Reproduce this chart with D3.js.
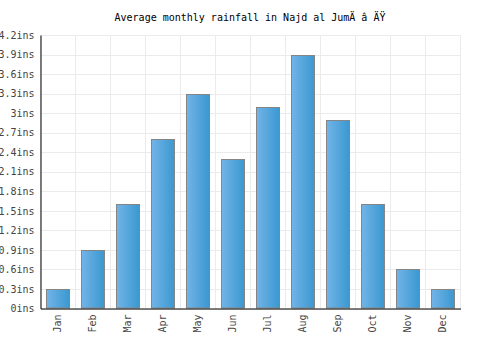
<!DOCTYPE html>
<html><head><meta charset="utf-8">
<script src="https://cdn.jsdelivr.net/npm/d3@7"></script>
<style>
html,body{margin:0;padding:0;background:#fff;}
text{font-family:"DejaVu Sans Mono",monospace;}
</style></head>
<body><svg id="c" width="500" height="350"></svg>
<script>
const title = "Average monthly rainfall in Najd al JumÄ â  ÄŸ";
const months = ["Jan","Feb","Mar","Apr","May","Jun","Jul","Aug","Sep","Oct","Nov","Dec"];
const rainfall = [0.3,0.9,1.6,2.6,3.3,2.3,3.1,3.9,2.9,1.6,0.6,0.3];
const yTicks = [0,0.3,0.6,0.9,1.2,1.5,1.8,2.1,2.4,2.7,3,3.3,3.6,3.9,4.2];

const svg = d3.select("#c");
const m = {l:40.5, r:460.5, t:35, b:308.5};
const x = d3.scaleBand().domain(months).range([m.l, m.r]).paddingInner(0.33).paddingOuter(0.165);
const y = d3.scaleLinear().domain([0,4.2]).range([m.b, m.t]);

const defs = svg.append("defs");
const g = defs.append("linearGradient").attr("id","bg").attr("x1","0").attr("x2","1").attr("y1","0").attr("y2","0");
g.append("stop").attr("offset","0").attr("stop-color","#72b4e8");
g.append("stop").attr("offset","1").attr("stop-color","#3a98d0");

// grid
const grid = svg.append("g");
grid.selectAll("line.h").data(yTicks).join("line")
  .attr("x1", m.l).attr("x2", m.r)
  .attr("y1", d => Math.round(y(d))+0.5).attr("y2", d => Math.round(y(d))+0.5)
  .attr("stroke","#ebebeb").attr("stroke-width",1);
const step = x.step();
grid.selectAll("line.v").data(d3.range(13)).join("line")
  .attr("x1", i => m.l + i*step).attr("x2", i => m.l + i*step)
  .attr("y1", m.t).attr("y2", m.b)
  .attr("stroke","#ebebeb").attr("stroke-width",1);

// bars
svg.append("g").selectAll("rect").data(rainfall).join("rect")
  .attr("x", (d,i) => Math.round(x(months[i]))+0.5)
  .attr("width", Math.round(x.bandwidth()))
  .attr("y", d => Math.round(y(d))+0.5)
  .attr("height", d => m.b - 0.5 - (Math.round(y(d))+0.5))
  .attr("fill","url(#bg)").attr("stroke","#858585").attr("stroke-width",1);

// axes
const yAxis = d3.axisLeft(y).tickValues(yTicks).tickSize(0).tickPadding(6).tickFormat(d => d3.format("")(d) + "ins");
const ya = svg.append("g").attr("transform",`translate(${m.l},0)`).call(yAxis);
ya.select(".domain").attr("stroke","#000");
ya.selectAll("text").attr("font-size",10).attr("fill","#444").attr("font-family","DejaVu Sans Mono");

const xAxis = d3.axisBottom(x).tickSize(0).tickPadding(6);
const xa = svg.append("g").attr("transform",`translate(0,${m.b})`).call(xAxis);
xa.select(".domain").attr("stroke","#000");
xa.selectAll("text").attr("font-size",10).attr("fill","#444").attr("font-family","DejaVu Sans Mono")
  .attr("text-anchor","end").attr("transform","rotate(-90)").attr("dx","-6").attr("dy","0.32em").attr("y",0).attr("x",0);

svg.append("text").attr("x",250).attr("y",21).attr("text-anchor","middle")
  .attr("font-size",10).attr("fill","#000").text(title);
</script></body></html>
